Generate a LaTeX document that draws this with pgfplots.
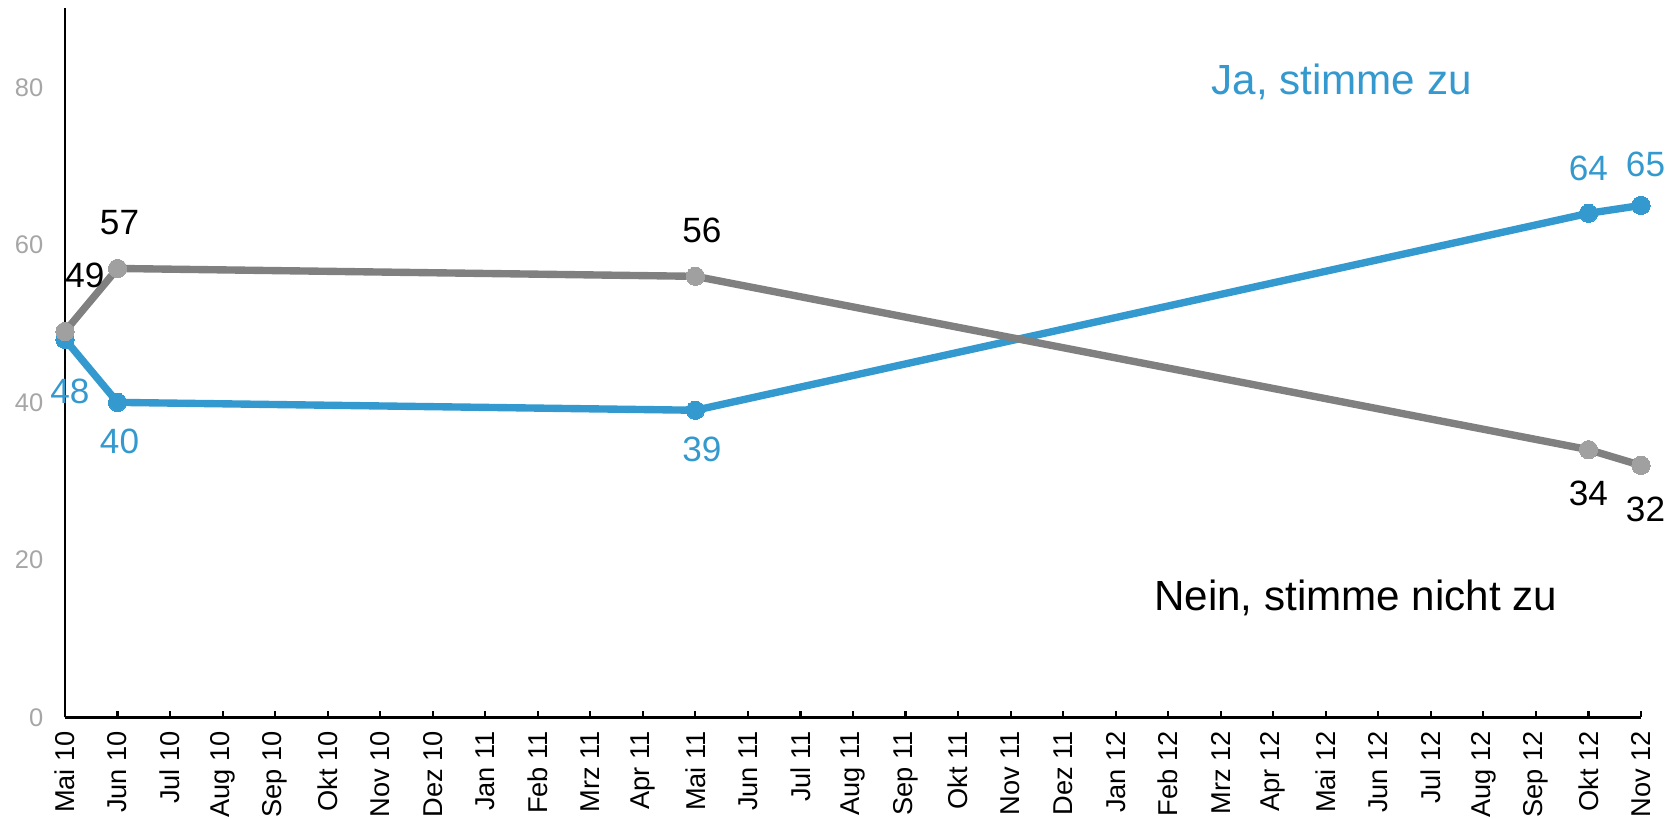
\documentclass[border=0pt]{standalone}
\usepackage{pgfplots}
\pgfplotsset{compat=1.18}
\usepackage{pgfplotstable}
\usepackage{fontspec}
\setmainfont{Liberation Sans}
\definecolor{jablue}{RGB}{52,153,206}
\definecolor{neingray}{RGB}{128,128,128}
\definecolor{markgray}{RGB}{160,160,160}
\definecolor{ticklab}{RGB}{166,166,166}

\pgfplotstableread{
x y dx dy
0 48 0.10 -1.05
1 40 0.04 -0.79
12 39 0.13 -0.79
29 64 0.00 0.90
30 65 0.09 0.83
}\ja
\pgfplotstableread{
x y dx dy
0 49 0.40 1.13
1 57 0.04 0.92
12 56 0.13 0.92
29 34 0.00 -0.88
30 32 0.09 -0.88
}\nein

\begin{document}
\begin{tikzpicture}
\begin{axis}[
  scale only axis, width=31.52cm, height=14.18cm,
  xmin=0, xmax=30, ymin=0, ymax=90,
  axis x line*=bottom, axis y line*=left,
  axis line style={black, line width=1.2pt},
  xtick={0,...,30},
  xticklabels={Mai 10,Jun 10,Jul 10,Aug 10,Sep 10,Okt 10,Nov 10,Dez 10,Jan 11,Feb 11,Mrz 11,Apr 11,Mai 11,Jun 11,Jul 11,Aug 11,Sep 11,Okt 11,Nov 11,Dez 11,Jan 12,Feb 12,Mrz 12,Apr 12,Mai 12,Jun 12,Jul 12,Aug 12,Sep 12,Okt 12,Nov 12},
  x tick label style={rotate=90, anchor=east, font=\fontsize{15.5}{18}\selectfont, text=black, xshift=-0.15cm},
  ytick={0,20,40,60,80},
  y tick label style={font=\fontsize{14.5}{17}\selectfont, text=ticklab, xshift=-0.31cm},
  tick align=inside, major tick length=0.12cm,
  xtick style={black, line width=1.2pt},
  ytick style={draw=none},
  /pgf/number format/assume math mode=true,
  clip=false,
]
\addplot[jablue, line width=4.2pt, mark=*, mark size=5.2pt,
  mark options={fill=jablue, draw=jablue, line width=0pt},
  visualization depends on={\thisrow{dx} \as \dx},
  visualization depends on={\thisrow{dy} \as \dy},
  nodes near coords,
  nodes near coords style={anchor=center, xshift=\dx cm, yshift=\dy cm,
    font=\fontsize{20}{24}\selectfont, text=jablue},
] table[x=x, y=y] {\ja};
\addplot[neingray, line width=4.2pt, mark=*, mark size=5.2pt,
  mark options={fill=markgray, draw=markgray, line width=0pt},
  visualization depends on={\thisrow{dx} \as \dx},
  visualization depends on={\thisrow{dy} \as \dy},
  nodes near coords,
  nodes near coords style={anchor=center, xshift=\dx cm, yshift=\dy cm,
    font=\fontsize{20}{24}\selectfont, text=black},
] table[x=x, y=y] {\nein};
\node[font=\fontsize{24}{28}\selectfont, text=jablue] at (axis cs:24.3,80.7) {Ja, stimme zu};
\node[font=\fontsize{24}{28}\selectfont, text=black] at (axis cs:24.57,15.2) {Nein, stimme nicht zu};
\end{axis}
\pgfresetboundingbox
\path ([xshift=-1.30cm,yshift=-2.03cm]current axis.south west) rectangle ([xshift=0.66cm,yshift=0.17cm]current axis.north east);
\end{tikzpicture}
\end{document}
